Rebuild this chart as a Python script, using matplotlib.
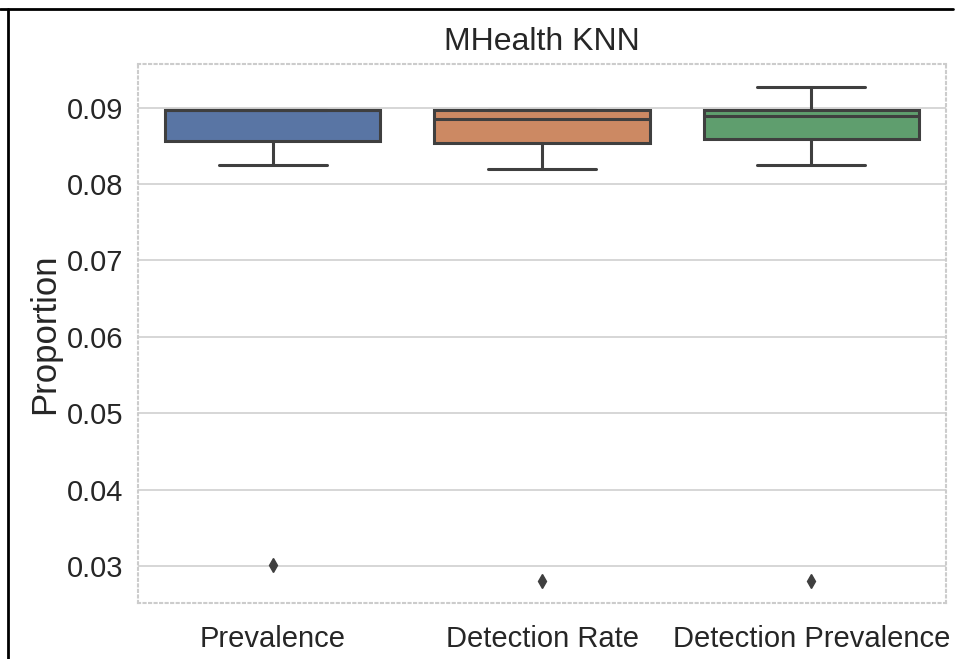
import matplotlib
matplotlib.use("Agg")
import matplotlib.pyplot as plt
import seaborn as sns
from matplotlib.lines import Line2D

categories = ["Prevalence", "Detection Rate", "Detection Prevalence"]
q1 = [0.08564, 0.08537, 0.08589]
median = [0.0897, 0.08852, 0.08895]
q3 = [0.0897, 0.0897, 0.0897]
whislo = [0.0825, 0.08197, 0.08249]
whishi = [0.0897, 0.0897, 0.09271]
fliers = [[0.03007], [0.0280], [0.0280]]
colors = ["#5975a4", "#cc8963", "#5f9e6e"]

sns.set_style("whitegrid")
plt.rcParams["font.family"] = ["Liberation Sans", "DejaVu Sans"]

fig = plt.figure(figsize=(9.56, 6.59), dpi=100)
ax = fig.add_axes([0.1444, 0.085, 0.8451, 0.8179])

stats = []
for i, name in enumerate(categories):
    stats.append(dict(label=name, q1=q1[i], med=median[i], q3=q3[i],
                      whislo=whislo[i], whishi=whishi[i], fliers=fliers[i]))

line_col = "#3f3f3f"
bp = ax.bxp(stats, positions=range(len(categories)), widths=0.8,
            patch_artist=True, showfliers=True,
            boxprops=dict(edgecolor=line_col, linewidth=2.2),
            medianprops=dict(color=line_col, linewidth=2.2),
            whiskerprops=dict(color=line_col, linewidth=2.2),
            capprops=dict(color=line_col, linewidth=2.2),
            flierprops=dict(marker="d", markerfacecolor=line_col,
                            markeredgecolor=line_col, markersize=7))
for patch, c in zip(bp["boxes"], colors):
    patch.set_facecolor(c)

for cap in bp["caps"]:
    x = cap.get_xdata()
    mid = (x[0] + x[1]) / 2
    cap.set_xdata([mid - 0.2, mid + 0.2])

ax.set_xlim(-0.5, 2.5)
ax.set_ylim(0.02515, 0.09573)
ax.set_yticks([0.03, 0.04, 0.05, 0.06, 0.07, 0.08, 0.09])
ax.set_yticklabels(["0.03", "0.04", "0.05", "0.06", "0.07", "0.08", "0.09"])
ax.set_xticks(range(len(categories)))
ax.set_xticklabels(categories)
ax.tick_params(axis="both", labelsize=21, colors="#262626")
ax.tick_params(axis="y", pad=7)
ax.tick_params(axis="x", pad=12)
ax.grid(axis="x", visible=False)
ax.grid(axis="y", color="#d0d0d0", linewidth=1.2)
for s in ax.spines.values():
    s.set_color("#cccccc")
    s.set_linestyle(":")
    s.set_linewidth(1.5)

ax.set_title("MHealth KNN", fontsize=23, color="#262626", pad=10)
ax.set_ylabel("Proportion", fontsize=25, color="#262626", labelpad=4)

fig.add_artist(Line2D([0, 0.997], [1 - 9 / 659, 1 - 9 / 659],
                      transform=fig.transFigure, color="black", linewidth=2))
fig.add_artist(Line2D([8 / 956, 8 / 956], [0, 1 - 9 / 659],
                      transform=fig.transFigure, color="black", linewidth=2))

fig.savefig("out.png", dpi=100)
